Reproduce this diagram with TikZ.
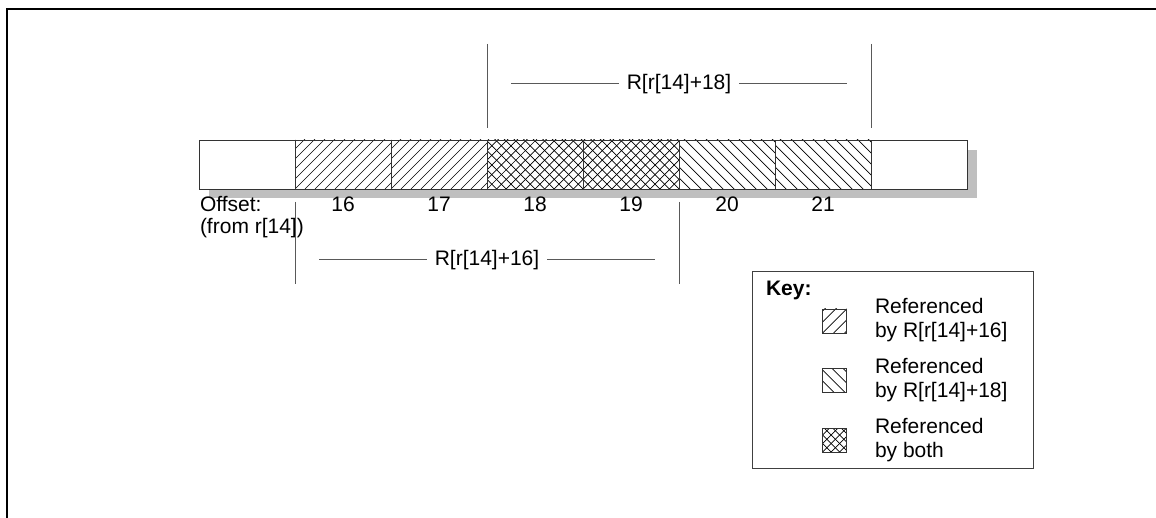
\documentclass[tikz,border=0pt]{standalone}
\usepackage{fontspec}
\setmainfont{Liberation Sans}
\begin{document}
\begin{tikzpicture}[x=1pt,y=-1pt,
  font=\fontsize{21}{24.5}\selectfont,
  cellbox/.style={draw=black!80,line width=0.9pt,minimum width=96pt,minimum height=49pt,inner sep=0pt,outer sep=0pt},
  hatchline/.style={black,line width=0.7pt},
  dimline/.style={black!65,line width=1pt},
  lbl/.style={inner sep=0pt,outer sep=0pt},
  dimlbl/.style={inner xsep=8pt,inner ysep=0pt,outer sep=0pt},
  swatch/.style={draw=black!80,line width=0.8pt,minimum width=24pt,minimum height=24pt,inner sep=0pt,outer sep=0pt}]
\newcommand{\myhatch}[6]{%
  \begin{scope}
    \clip (#1,#2) rectangle (#3,#4);
    \foreach \k in {-8,...,20}{\draw[hatchline] ({#1+\k*#5},#4) -- ++({#6*70},-70);}
  \end{scope}}
\useasboundingbox (0,0) rectangle (1156,518);
% frame
\draw[line width=2.2pt,line cap=rect] (7,518) -- (7,9) -- (1156,9);
% shadow
\fill[black!25] (209,150) rectangle (977,198);
% cells
\foreach \i in {0,...,7}{
  \node[cellbox,fill=white] (c\i) at ({247+96*\i},164.5) {};
}
\myhatch{295}{140}{391}{189}{10}{1}
\myhatch{391}{140}{487}{189}{10}{1}
\myhatch{487}{140}{583}{189}{9.6}{1}
\myhatch{487}{140}{583}{189}{9.6}{-1}
\myhatch{583}{140}{679}{189}{9.6}{1}
\myhatch{583}{140}{679}{189}{9.6}{-1}
\myhatch{679}{140}{775}{189}{11}{-1}
\myhatch{775}{140}{871}{189}{11}{-1}
\foreach \i in {0,...,7}{
  \node[cellbox] at (c\i) {};
}
% offsets
\node[lbl,anchor=west] (off) at (200,204) {Offset:};
\node[lbl,anchor=west] (from) at (200,228) {(from r[14])};
\foreach \i/\n in {1/16,2/17,3/18,4/19,5/20,6/21}{
  \node[lbl] (n\n) at ({247+96*\i},204) {\n};
}
% top dimension
\coordinate (ta1) at (487,44); \coordinate (ta2) at (487,128);
\coordinate (tb1) at (871,44); \coordinate (tb2) at (871,128);
\draw[dimline] (ta1) -- (ta2);
\draw[dimline] (tb1) -- (tb2);
\node[dimlbl] (l18) at (679,84) {R[r[14]+18]};
\coordinate (tl) at (511,84); \coordinate (tr) at (847,84);
\draw[dimline] (tl) -- (l18.west);
\draw[dimline] (l18.east) -- (tr);
% bottom dimension
\coordinate (ba1) at (295,202); \coordinate (ba2) at (295,284);
\coordinate (bb1) at (679,202); \coordinate (bb2) at (679,284);
\draw[dimline] (ba1) -- (ba2);
\draw[dimline] (bb1) -- (bb2);
\node[dimlbl] (l16) at (487,260) {R[r[14]+16]};
\coordinate (bl) at (319,260); \coordinate (br) at (655,260);
\draw[dimline] (bl) -- (l16.west);
\draw[dimline] (l16.east) -- (br);
% key
\node[draw=black!75,line width=1pt,minimum width=281pt,minimum height=197pt,inner sep=0pt,anchor=north west] (key) at (752,271) {};
\node[lbl,anchor=west,font=\fontsize{21}{24.5}\selectfont\bfseries] (keyt) at (766,290) {Key:};
\node[swatch] (s1) at (834.5,321) {};
\myhatch{822.5}{309}{846.5}{333}{11}{1}
\node[swatch] at (s1) {};
\node[swatch] (s2) at (834.5,380) {};
\myhatch{822.5}{368}{846.5}{392}{11}{-1}
\node[swatch] at (s2) {};
\node[swatch] (s3) at (834.5,440) {};
\myhatch{822.5}{428}{846.5}{452}{8.5}{1}
\myhatch{822.5}{428}{846.5}{452}{8.5}{-1}
\node[swatch] at (s3) {};
\node[lbl,anchor=west,align=left] (k1) at (875,320) {Referenced\\by R[r[14]+16]};
\node[lbl,anchor=west,align=left] (k2) at (875,380) {Referenced\\by R[r[14]+18]};
\node[lbl,anchor=west,align=left] (k3) at (875,440) {Referenced\\by both};
\end{tikzpicture}
\end{document}
